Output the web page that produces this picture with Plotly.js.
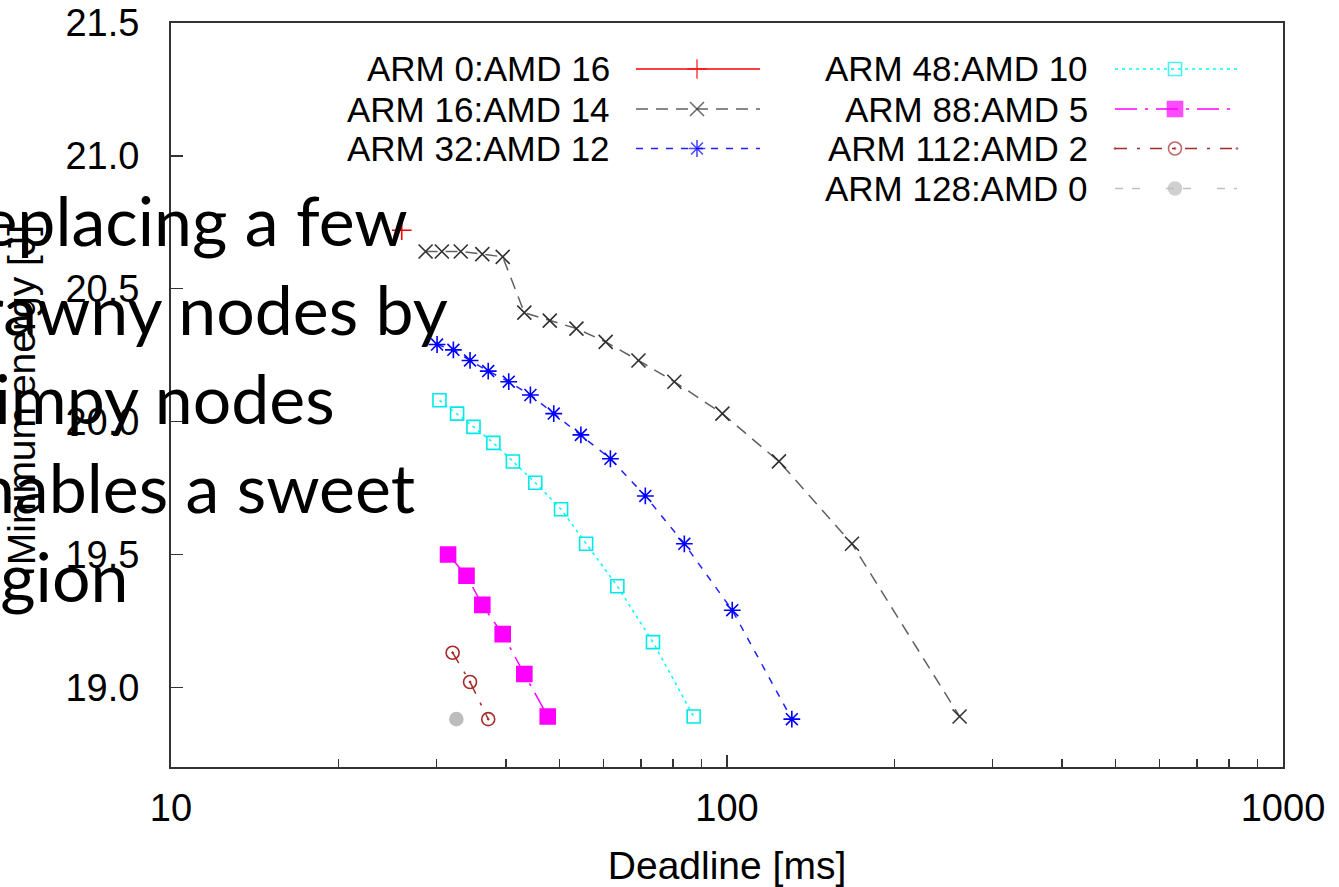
<!DOCTYPE html>
<html>
<head>
<meta charset="utf-8">
<script src="https://cdn.plot.ly/plotly-3.0.1.min.js"></script>
<style>
html,body{margin:0;padding:0;background:#fff;}
#chart{width:1339px;height:887px;}
</style>
</head>
<body>
<div id="chart"></div>
<script>
// ---------------- data ----------------
const seriesNames = ["ARM 0:AMD 16","ARM 16:AMD 14","ARM 32:AMD 12","ARM 48:AMD 10","ARM 88:AMD 5","ARM 112:AMD 2","ARM 128:AMD 0"];

const arm0X = [26.0];
const arm0Y = [20.72];

const arm16X = [28.7, 30.7, 33.2, 36.3, 39.5, 43.2, 48.0, 53.6, 60.5, 69.3, 80.4, 98.1, 124.0, 167.8, 262.0];
const arm16Y = [20.64, 20.64, 20.64, 20.63, 20.62, 20.41, 20.38, 20.35, 20.30, 20.23, 20.15, 20.03, 19.85, 19.54, 18.89];

const arm32X = [30.1, 32.2, 34.5, 37.2, 40.5, 44.3, 48.8, 54.6, 61.7, 71.3, 83.8, 102.2, 130.8];
const arm32Y = [20.29, 20.27, 20.23, 20.19, 20.15, 20.10, 20.03, 19.95, 19.86, 19.72, 19.54, 19.29, 18.88];

const arm48X = [30.4, 32.7, 35.0, 38.0, 41.2, 45.2, 50.3, 55.8, 63.5, 73.6, 87.1];
const arm48Y = [20.08, 20.03, 19.98, 19.92, 19.85, 19.77, 19.67, 19.54, 19.38, 19.17, 18.89];

const arm88X = [31.5, 34.0, 36.3, 39.5, 43.2, 47.6];
const arm88Y = [19.50, 19.42, 19.31, 19.20, 19.05, 18.89];

const arm112X = [32.1, 34.5, 37.2];
const arm112Y = [19.13, 19.02, 18.88];

const arm128X = [32.6];
const arm128Y = [18.88];

const xTickVals = [10, 100, 1000];
const xTickText = ["10", "100", "1000"];
const xMinorVals = [20,30,40,50,60,70,80,90,200,300,400,500,600,700,800,900];

const xTitle = "Deadline [ms]";
const yTitle = "Minimum energy [J]";

const noteLines = ["Replacing a few", "brawny nodes by", "wimpy nodes", "enables a sweet", "region"];

// ---------------- styles ----------------
const seriesX = [arm0X, arm16X, arm32X, arm48X, arm88X, arm112X, arm128X];
const seriesY = [arm0Y, arm16Y, arm32Y, arm48Y, arm88Y, arm112Y, arm128Y];
const styles = [
  {color:"#ff0000", mcolor:"#ff0000", dash:"solid",               symbol:"cross-thin-open", size:14, lw:1.5},
  {color:"#606060", mcolor:"#303030", dash:"12px,8px",            symbol:"x-thin-open",     size:14, lw:1.5},
  {color:"#2020ff", mcolor:"#0000ff", dash:"7px,8px",             symbol:"asterisk-open",   size:14, lw:1.5},
  {color:"#00ffff", mcolor:"#00e8e8", dash:"3px,4px",             symbol:"square-open",     size:13, lw:1.5},
  {color:"#ff00ff", mcolor:"#ff00ff", dash:"22px,8px,3px,8px",    symbol:"square",          size:15, lw:1.5},
  {color:"#a52a2a", mcolor:"#a52a2a", dash:"12px,10px,3px,10px",  symbol:"circle-open-dot", size:13, lw:1.5},
  {color:"#c0c0c0", mcolor:"#bdbdbd", dash:"8px,9px,8px,26px",    symbol:"circle",          size:13, lw:1.5}
];

// plot geometry (pixels) for paper conversion
const W = 1339, H = 887;
const M = {l:171, r:56, t:23, b:120};
const PW = W - M.l - M.r, PH = H - M.t - M.b;
const px2x = p => (p - M.l) / PW;
const py2y = p => (H - M.b - p) / PH;

const traces = [];
for (let i = 0; i < seriesNames.length; i++) {
  const s = styles[i];
  traces.push({
    type: "scatter", mode: "lines+markers", name: seriesNames[i],
    x: seriesX[i], y: seriesY[i], xaxis: "x", yaxis: "y",
    line: {color: s.color, width: s.lw, dash: s.dash},
    marker: {symbol: s.symbol, size: s.size, color: s.mcolor, line: {color: s.mcolor, width: 1.6}},
    showlegend: false, hoverinfo: "skip", cliponaxis: false
  });
}

// custom gnuplot-style legend (text on left, sample on right)
const legendCols = [
  {textRight: 612, x0: 636, x1: 760, xm: 697},
  {textRight: 1090, x0: 1115, x1: 1237, xm: 1175}
];
const legendRows = [69, 109, 148.5, 188.5];
const legendPlace = [[0,0],[0,1],[0,2],[1,0],[1,1],[1,2],[1,3]];
const annotations = [];
for (let i = 0; i < seriesNames.length; i++) {
  const s = styles[i];
  const c = legendCols[legendPlace[i][0]];
  const ry = py2y(legendRows[legendPlace[i][1]]);
  traces.push({
    type: "scatter", mode: "lines+markers", xaxis: "x2", yaxis: "y2",
    x: [px2x(c.x0), px2x(c.xm), px2x(c.x1)], y: [ry, ry, ry],
    line: {color: s.color, width: s.lw, dash: s.dash},
    marker: {symbol: s.symbol, size: [0, s.size, 0], color: s.mcolor, line: {color: s.mcolor, width: 1.6}},
    showlegend: false, hoverinfo: "skip", cliponaxis: false
  });
  annotations.push({
    xref: "paper", yref: "paper", x: px2x(c.textRight), y: ry,
    xanchor: "right", yanchor: "middle", showarrow: false,
    text: seriesNames[i],
    font: {family: "Liberation Sans, Arial, sans-serif", size: 35, color: "#000"}
  });
}

// overlay slide text
const noteFont = 68;
const noteX0 = -61;
const noteBase0 = 242, noteStep = 89;
for (let i = 0; i < noteLines.length; i++) {
  const center = noteBase0 + i * noteStep - 0.33 * noteFont;
  annotations.push({
    xref: "paper", yref: "paper", x: px2x(noteX0), y: py2y(center),
    xanchor: "left", yanchor: "middle", showarrow: false,
    text: noteLines[i],
    font: {family: "Lato, Carlito, sans-serif", size: noteFont, color: "#000"}
  });
}

const axisFont = {family: "Liberation Sans, Arial, sans-serif", size: 38, color: "#000"};

const layout = {
  width: W, height: H,
  margin: M,
  paper_bgcolor: "#fff", plot_bgcolor: "#fff",
  showlegend: false,
  hovermode: false,
  xaxis: {
    type: "log", range: [1, 3],
    tickvals: xTickVals, ticktext: xTickText,
    ticks: "inside", ticklen: 12, tickwidth: 1.5, tickcolor: "#333",
    minor: {tickvals: xMinorVals, ticks: "inside", ticklen: 8, tickwidth: 1.5, tickcolor: "#333", showgrid: false},
    showgrid: false, zeroline: false,
    showline: true, mirror: true, linecolor: "#333", linewidth: 2,
    tickfont: axisFont, ticklabelstandoff: 6,
    title: {text: xTitle, font: {family: "Liberation Sans, Arial, sans-serif", size: 39, color: "#000"}, standoff: 38},
    automargin: false
  },
  yaxis: {
    range: [18.7, 21.5],
    tick0: 19, dtick: 0.5, tickformat: ".1f",
    ticks: "inside", ticklen: 12, tickwidth: 1.5, tickcolor: "#333",
    showgrid: false, zeroline: false,
    showline: true, mirror: true, linecolor: "#333", linewidth: 2,
    tickfont: axisFont, ticklabelstandoff: 22,
    title: {text: yTitle, font: {family: "Liberation Sans, Arial, sans-serif", size: 39, color: "#000"}, standoff: 22},
    automargin: false
  },
  xaxis2: {domain: [0, 1], range: [0, 1], overlaying: "x", anchor: "y2", visible: false, fixedrange: true},
  yaxis2: {domain: [0, 1], range: [0, 1], overlaying: "y", anchor: "x2", visible: false, fixedrange: true},
  annotations: annotations
};

Plotly.newPlot("chart", traces, layout, {displayModeBar: false, staticPlot: true});
</script>
</body>
</html>
